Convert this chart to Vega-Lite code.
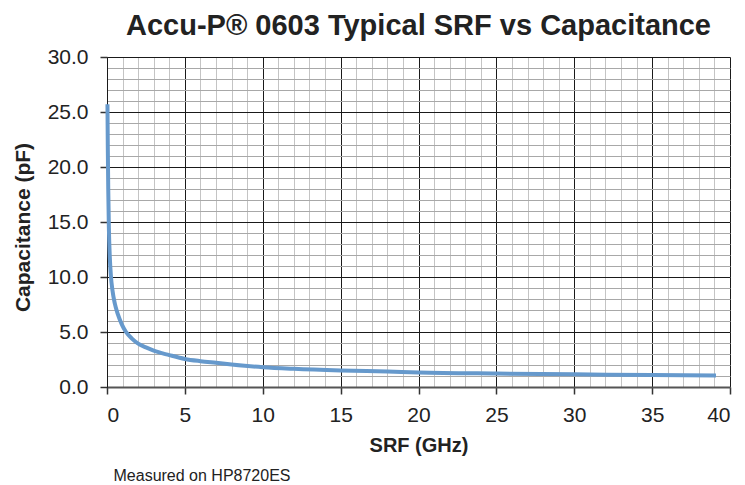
{
  "$schema": "https://vega.github.io/schema/vega-lite/v6.json",
  "width": 623,
  "height": 330,
  "autosize": "none",
  "padding": {"left": 107, "top": 57, "right": 15, "bottom": 98},
  "background": "white",
  "config": {
    "font": "Liberation Sans",
    "view": {"stroke": null},
    "axis": {"labelColor": "#222", "titleColor": "#111"}
  },
  "title": {
    "text": "Accu-P® 0603 Typical SRF vs Capacitance",
    "font": "Liberation Sans",
    "fontSize": 29,
    "fontWeight": "bold",
    "color": "#222",
    "anchor": "middle",
    "baseline": "bottom",
    "offset": 8,
    "dy": 32
  },
  "data": {
    "values": [
      {"srf": 0.03, "cap": 25.7},
      {"srf": 0.05, "cap": 22.0},
      {"srf": 0.08, "cap": 18.0},
      {"srf": 0.12, "cap": 14.5},
      {"srf": 0.18, "cap": 11.8},
      {"srf": 0.25, "cap": 10.1},
      {"srf": 0.35, "cap": 8.8},
      {"srf": 0.5, "cap": 7.6},
      {"srf": 0.7, "cap": 6.6},
      {"srf": 0.95, "cap": 5.7},
      {"srf": 1.2, "cap": 5.05},
      {"srf": 1.6, "cap": 4.4},
      {"srf": 2.0, "cap": 3.95},
      {"srf": 2.5, "cap": 3.6},
      {"srf": 3.0, "cap": 3.3},
      {"srf": 4.0, "cap": 2.9},
      {"srf": 5.0, "cap": 2.55},
      {"srf": 6.0, "cap": 2.35},
      {"srf": 7.0, "cap": 2.2},
      {"srf": 8.0, "cap": 2.05},
      {"srf": 10.0, "cap": 1.8},
      {"srf": 12.0, "cap": 1.65},
      {"srf": 15.0, "cap": 1.5},
      {"srf": 18.0, "cap": 1.4},
      {"srf": 20.0, "cap": 1.32},
      {"srf": 25.0, "cap": 1.22},
      {"srf": 30.0, "cap": 1.15},
      {"srf": 35.0, "cap": 1.08},
      {"srf": 39.1, "cap": 1.05}
    ]
  },
  "layer": [
    {
      "mark": {"type": "line", "strokeOpacity": 0},
      "encoding": {
        "x": {
          "field": "srf", "type": "quantitative",
          "scale": {"domain": [0, 40], "nice": false},
          "axis": {
            "orient": "bottom",
            "values": [0,1,2,3,4,5,6,7,8,9,10,11,12,13,14,15,16,17,18,19,20,21,22,23,24,25,26,27,28,29,30,31,32,33,34,35,36,37,38,39,40],
            "grid": true, "gridColor": "#c4c4c4", "gridWidth": 1,
            "labels": false, "ticks": false, "domain": false,
            "title": "Measured on HP8720ES",
            "titleFontSize": 16, "titleFontWeight": "normal", "titleColor": "#222",
            "titleAnchor": "start", "titleAlign": "left", "titleBaseline": "alphabetic",
            "titleX": 6, "titleY": 93
          }
        },
        "y": {
          "field": "cap", "type": "quantitative",
          "scale": {"domain": [0, 30], "nice": false},
          "axis": {
            "orient": "left",
            "values": [0,1,2,3,4,5,6,7,8,9,10,11,12,13,14,15,16,17,18,19,20,21,22,23,24,25,26,27,28,29,30],
            "grid": true, "gridColor": "#a8a8a8", "gridWidth": 1,
            "labels": false, "ticks": false, "domain": false,
            "title": null
          }
        }
      }
    },
    {
      "mark": {"type": "line", "color": "#6699cc", "strokeWidth": 4, "interpolate": "monotone"},
      "encoding": {
        "x": {
          "field": "srf", "type": "quantitative",
          "scale": {"domain": [0, 40], "nice": false},
          "axis": {
            "orient": "bottom",
            "values": [0, 5, 10, 15, 20, 25, 30, 35, 40],
            "grid": true, "gridColor": "#1a1a1a", "gridWidth": 1,
            "domain": true, "domainColor": "#555", "domainWidth": 2,
            "ticks": true, "tickColor": "#333", "tickSize": 7, "tickWidth": 1.5,
            "labelFontSize": 21, "labelPadding": 10, "labelColor": "#222",
            "title": "SRF (GHz)",
            "titleFontSize": 20, "titleFontWeight": "bold", "titleColor": "#222",
            "titleX": 311.5, "titleY": 64, "titleBaseline": "alphabetic", "titleAlign": "center"
          }
        },
        "y": {
          "field": "cap", "type": "quantitative",
          "scale": {"domain": [0, 30], "nice": false},
          "axis": {
            "orient": "left",
            "values": [0, 5, 10, 15, 20, 25, 30],
            "format": ".1f",
            "grid": true, "gridColor": "#1a1a1a", "gridWidth": 1,
            "domain": true, "domainColor": "#1a1a1a", "domainWidth": 1,
            "ticks": true, "tickColor": "#333", "tickSize": 7, "tickWidth": 1.5,
            "labelFontSize": 21, "labelPadding": 12, "labelColor": "#222",
            "title": "Capacitance (pF)",
            "titleFontSize": 21, "titleFontWeight": "bold", "titleColor": "#222",
            "titleAngle": -90, "titleX": -84, "titleY": 170,
            "titleAlign": "center", "titleBaseline": "middle"
          }
        }
      }
    }
  ],
  "resolve": {"axis": {"x": "independent", "y": "independent"}}
}
